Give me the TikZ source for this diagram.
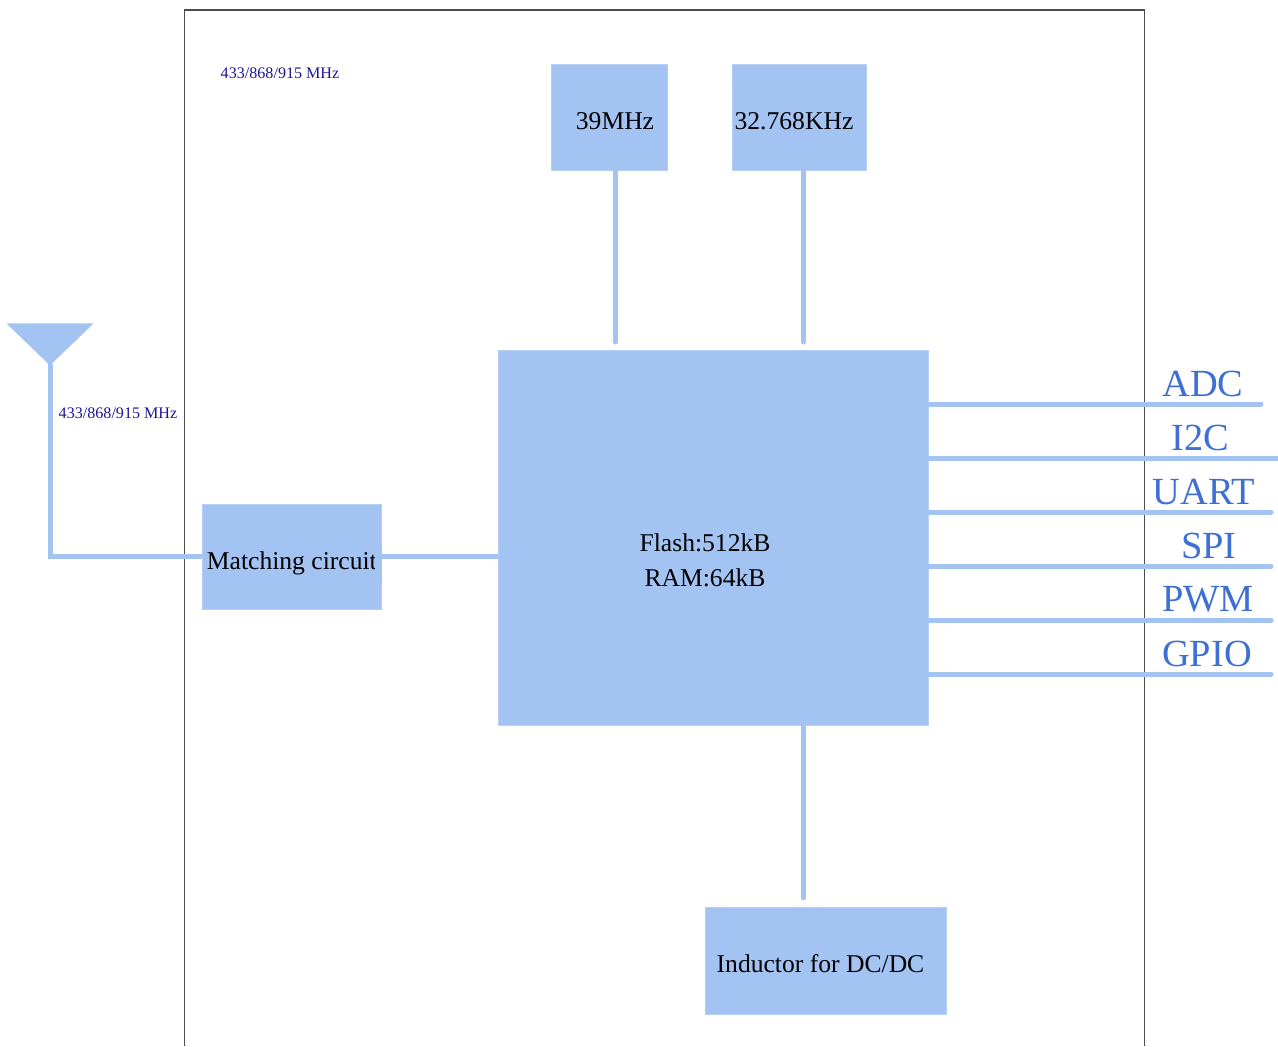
\documentclass[tikz,border=0pt]{standalone}
\usepackage{fontspec}
\setmainfont{Liberation Serif}
\definecolor{blockblue}{RGB}{163,195,243}
\definecolor{labelblue}{RGB}{62,112,212}
\definecolor{freqblue}{RGB}{30,20,150}
\usetikzlibrary{arrows.meta,positioning,shapes.geometric,calc}
\tikzset{
  blockbox/.style={fill=blockblue,draw=blockblue!80!white,line width=0.4pt,inner sep=0pt},
  blocktext/.style={font=\fontsize{12.8}{15}\selectfont,inner sep=0pt,align=center},
  wire/.style={draw=blockblue,line width=2.5pt},
  buslabel/.style={font=\fontsize{19.2}{22}\selectfont,text=labelblue,inner sep=0pt},
  freqlabel/.style={font=\fontsize{8.05}{9}\selectfont,text=freqblue,inner sep=0pt}
}
\begin{document}
\begin{tikzpicture}[x=1pt,y=-1pt,line cap=round]
  \useasboundingbox (0,0) rectangle (639,523);
  % module outline
  \draw[draw=black!70,line width=0.7pt,line cap=butt] (92.25,523) |- (572.25,5) -- (572.25,523);
  \node[freqlabel] (freqtop) at (140,36.75) {433/868/915 MHz};
  % crystals
  \node[blockbox,minimum width=58pt,minimum height=53pt] (xtalA) at (304.75,58.5) {};
  \node[blockbox,minimum width=67pt,minimum height=53pt] (xtalB) at (399.5,58.5) {};
  \node[blocktext] (xtalAtext) at (307.5,60.5) {39MHz};
  \node[blocktext] (xtalBtext) at (397,60.5) {32.768KHz};
  % mcu
  \node[blockbox,minimum width=215pt,minimum height=187.5pt] (mcu) at (356.75,268.75) {};
  \node[blocktext,font=\fontsize{12.8}{17.5}\selectfont] (mcutext) at (352.5,280.25) {Flash:512kB\\RAM:64kB};
  % matching
  \node[blockbox,minimum width=89.5pt,minimum height=52.5pt] (match) at (146,278.25) {};
  \node[blocktext,anchor=west] (matchtext) at (103.25,281.75) {Matching circuit};
  \fill[blockblue] (187.4,272) rectangle (190.75,292);
  % inductor
  \node[blockbox,minimum width=120.5pt,minimum height=53.5pt] (inductor) at (413,480.5) {};
  \node[blocktext] (inductortext) at (410.25,482) {Inductor for DC/DC};
  % antenna
  \coordinate (antbase) at (25,182);
  \node[isosceles triangle,shape border rotate=-90,isosceles triangle apex angle=92,fill=blockblue,inner sep=0pt,minimum height=21pt,anchor=apex] (ant) at (25,183) {};
  \node[freqlabel] (freqant) at (59,206.75) {433/868/915 MHz};
  \draw[wire,line cap=butt,line join=miter] (antbase) |- (match.west);
  \draw[wire,line cap=butt] (match.east) -- (mcu.west |- match.east);
  % clock lines
  \coordinate (xtalAend) at (307.75,171);
  \coordinate (xtalBend) at (401.75,171);
  \draw[wire] (xtalAend |- xtalA.south) -- (xtalAend);
  \draw[wire] (xtalBend |- xtalB.south) -- (xtalBend);
  \coordinate (indtop) at (401.75,449);
  \draw[wire] (indtop |- mcu.south) -- (indtop);
  % bus lines
  \foreach \busname/\busy/\busend/\labx in {ADC/202/630.5/601.5,I2C/229/641/600,UART/256/635.5/602,SPI/283/635.5/604.5,PWM/310/635.5/604,GPIO/337/635.5/603.5}{
    \coordinate (\busname end) at (\busend,\busy);
    \draw[wire] (mcu.east |- \busname end) -- (\busname end);
    \node[buslabel] (\busname label) at (\labx,\busy-10.25) {\busname};
  }
\end{tikzpicture}
\end{document}
